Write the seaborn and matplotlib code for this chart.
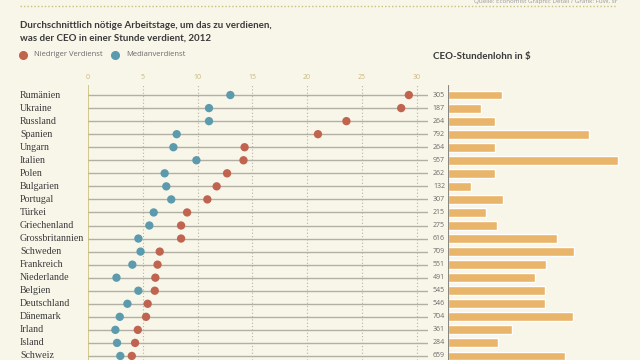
import pandas as pd
import matplotlib.pyplot as plt
import seaborn as sns

# Daten
laender = ["Rumänien", "Ukraine", "Russland", "Spanien", "Ungarn", "Italien", "Polen",
           "Bulgarien", "Portugal", "Türkei", "Griechenland", "Grossbritannien", "Schweden",
           "Frankreich", "Niederlande", "Belgien", "Deutschland", "Dänemark", "Irland",
           "Island", "Schweiz"]
niedrig = [29.3, 28.6, 23.6, 21.0, 14.3, 14.2, 12.7, 11.75, 10.9, 9.05, 8.5, 8.5, 6.55,
           6.35, 6.15, 6.1, 5.45, 5.3, 4.55, 4.3, 4.0]
median = [13.0, 11.05, 11.05, 8.1, 7.8, 9.9, 7.0, 7.15, 7.6, 6.0, 5.6, 4.6, 4.8,
          4.05, 2.6, 4.6, 3.6, 2.9, 2.5, 2.65, 2.95]
ceo_lohn = [305, 187, 264, 792, 264, 957, 262, 132, 307, 215, 275, 616, 709, 551, 491,
            545, 546, 704, 361, 284, 659]
ticks = [0, 5, 10, 15, 20, 25, 30]

BG = "#f8f5e9"
ROT = "#c0644f"
BLAU = "#5b9bad"
GELB = "#e9b56b"
GRAU = "#b3afa4"
TEXT = "#3a3a3a"

df = pd.DataFrame({"Land": laender, "Niedrig": niedrig, "Median": median, "Lohn": ceo_lohn})

sns.set_theme(style="white")
plt.rcParams["font.family"] = ["Open Sans", "DejaVu Sans"]

fig = plt.figure(figsize=(6.4, 3.6), dpi=100, facecolor=BG)
W, H = 640, 360
top = 1 - 85 / H
ax = fig.add_axes([88 / W, 0, (428 - 88) / W, top], facecolor="none")
ax2 = fig.add_axes([448 / W, 0, 192 / W, top], facecolor="none")

# --- Punktdiagramm ---
for y in range(len(laender)):
    ax.axhline(y, color=GRAU, lw=1.0, zorder=1)
for t in ticks[1:]:
    ax.axvline(t, color="#b8b4a8", lw=0.8, ls=(0, (1, 2)), zorder=0)
ax.axvline(0, color="#c9c27e", lw=1.2, zorder=2)

sns.scatterplot(data=df, x="Niedrig", y="Land", ax=ax, color=ROT, s=36,
                edgecolor="none", zorder=3)
sns.scatterplot(data=df, x="Median", y="Land", ax=ax, color=BLAU, s=36,
                edgecolor="none", zorder=3)

ax.set_xlim(0, 31.05)
ax.set_ylim(20.31, -0.77)
ax.xaxis.tick_top()
ax.set_xticks(ticks)
ax.set_xticklabels([str(t) for t in ticks], fontsize=5, color="#c9b880")
ax.tick_params(axis="x", length=0, pad=3)
ax.set_yticks([])
ax.set_xlabel("")
ax.set_ylabel("")
for s in ax.spines.values():
    s.set_visible(False)

for y, land in enumerate(laender):
    ax.text(-68 / 10.95, y, land, ha="left", va="center", fontsize=7.2,
            family="Liberation Serif", color=TEXT)

# --- Balken ---
sns.barplot(data=df, x="Lohn", y="Land", ax=ax2, color=GELB, width=0.68,
            saturation=1, orient="h")
ax2.set_xlim(0, 1081)
ax2.set_ylim(20.31, -0.77)
ax2.set_xticks([])
ax2.set_yticks([])
ax2.set_xlabel("")
ax2.set_ylabel("")
for s in ax2.spines.values():
    s.set_visible(False)
ax2.axvline(0, color="#8a8680", lw=0.8)
for y, v in enumerate(ceo_lohn):
    ax2.text(-3 / 192, y, str(v), transform=ax2.get_yaxis_transform(),
             ha="right", va="center", fontsize=5, color="#6a6a6a")

# --- Texte ---
titel_font = dict(fontsize=7.0, weight="bold", color=TEXT, va="center", family="Lato")
fig.text(20 / W, 1 - 26 / H, "Durchschnittlich nötige Arbeitstage, um das zu verdienen,", **titel_font)
fig.text(20 / W, 1 - 38 / H, "was der CEO in einer Stunde verdient, 2012", **titel_font)
fig.text(433 / W, 1 - 56 / H, "CEO-Stundenlohn in $", **titel_font)

for x0, farbe, label in [(23, ROT, "Niedriger Verdienst"), (115, BLAU, "Medianverdienst")]:
    fig.add_artist(plt.Line2D([x0 / W], [1 - 55 / H], transform=fig.transFigure,
                              marker="o", ms=5.5, color=farbe, ls="none"))
    fig.text((x0 + 11) / W, 1 - 55 / H, label, fontsize=5.5, color="#6a6a6a", va="center")

# Kopfzeile
fig.add_artist(plt.Line2D([20 / W, 617 / W], [1 - 6 / H, 1 - 6 / H], transform=fig.transFigure,
                          color="#c9c27e", lw=1, ls=(0, (1, 1.5))))
fig.text(617 / W, 1 - 1 / H, "Quelle: Economist Graphic Detail / Grafik: FuW, sr",
         fontsize=4.5, color="#9a9a9a", ha="right", va="center")

fig.savefig("out.png", dpi=100, facecolor=BG)
